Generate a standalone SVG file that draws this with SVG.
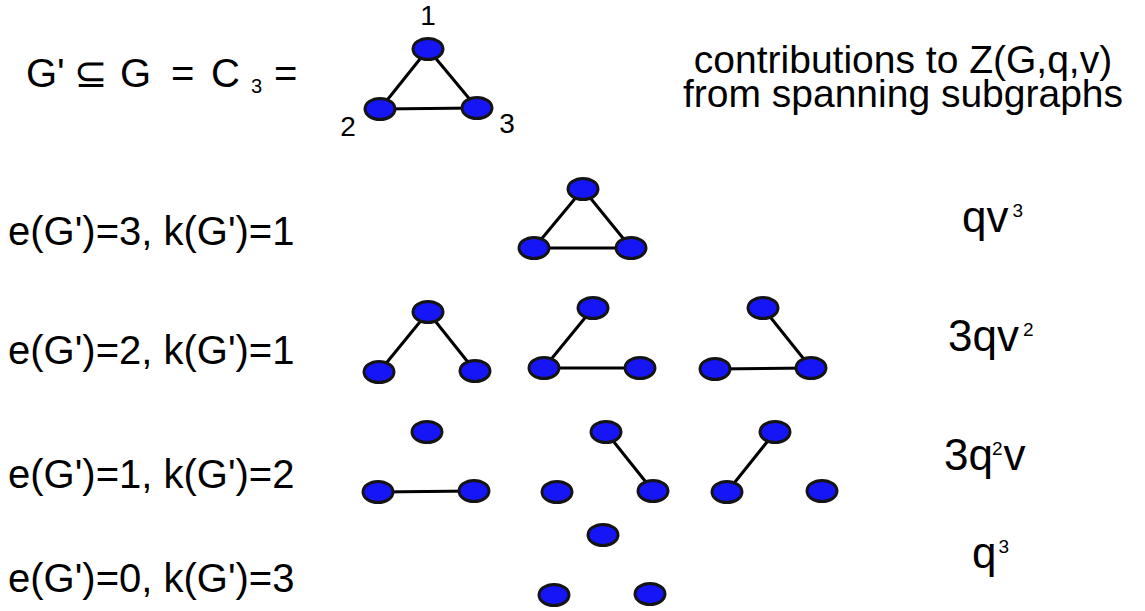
<svg xmlns="http://www.w3.org/2000/svg" width="1145" height="611" viewBox="0 0 1145 611">
<style>
.n{fill:#1515f6;stroke:#141414;stroke-width:3}
.e{stroke:#000;stroke-width:3;stroke-linecap:round}
.t{font-family:"Liberation Sans",Arial,sans-serif;fill:#000}
</style>
<rect width="1145" height="611" fill="#fff"/>
<g id="connectors">
<line class="e" x1="428" y1="49" x2="380" y2="109"/>
<line class="e" x1="428" y1="49" x2="477" y2="108"/>
<line class="e" x1="380" y1="109" x2="477" y2="108"/>
<line class="e" x1="583" y1="189" x2="534" y2="248"/>
<line class="e" x1="583" y1="189" x2="631" y2="248"/>
<line class="e" x1="534" y1="248" x2="631" y2="248"/>
<line class="e" x1="428" y1="312" x2="379" y2="372"/>
<line class="e" x1="428" y1="312" x2="475" y2="371"/>
<line class="e" x1="593" y1="308" x2="544" y2="368"/>
<line class="e" x1="544" y1="368" x2="640" y2="368"/>
<line class="e" x1="763" y1="308" x2="811" y2="368"/>
<line class="e" x1="715" y1="369" x2="811" y2="368"/>
<line class="e" x1="378" y1="492" x2="474" y2="491"/>
<line class="e" x1="606" y1="432" x2="653" y2="491"/>
<line class="e" x1="775" y1="432" x2="727" y2="492"/>
</g>
<g id="header">
<text class="t" font-size="40" y="87"><tspan x="26">G'</tspan><tspan x="74">⊆</tspan><tspan x="120">G</tspan><tspan x="171">=</tspan><tspan x="211">C</tspan><tspan x="251" y="93" font-size="20">3</tspan><tspan x="274" y="87">=</tspan></text>
<text class="t" font-size="28" x="428" y="25" text-anchor="middle">1</text>
<text class="t" font-size="28" x="348" y="136" text-anchor="middle">2</text>
<text class="t" font-size="28" x="507" y="133" text-anchor="middle">3</text>
<text class="t" font-size="39" x="903" y="73" text-anchor="middle">contributions to Z(G,q,v)</text>
<text class="t" font-size="39" x="903" y="107" text-anchor="middle">from spanning subgraphs</text>
</g>
<g id="c3">
<ellipse class="n" cx="428" cy="49" rx="15" ry="10.5"/>
<ellipse class="n" cx="380" cy="109" rx="15" ry="10.5"/>
<ellipse class="n" cx="477" cy="108" rx="15" ry="10.5"/>
</g>
<g id="row1">
<text class="t" font-size="40" x="8" y="245">e(G')=3, k(G')=1</text>
<ellipse class="n" cx="583" cy="189" rx="15" ry="10.5"/>
<ellipse class="n" cx="534" cy="248" rx="15" ry="10.5"/>
<ellipse class="n" cx="631" cy="248" rx="15" ry="10.5"/>
<text class="t" font-size="44" x="962" y="232">qv<tspan font-size="19" y="217" dx="4">3</tspan></text>
</g>
<g id="row2">
<text class="t" font-size="40" x="8" y="364">e(G')=2, k(G')=1</text>
<ellipse class="n" cx="428" cy="312" rx="15" ry="10.5"/>
<ellipse class="n" cx="379" cy="372" rx="15" ry="10.5"/>
<ellipse class="n" cx="475" cy="371" rx="15" ry="10.5"/>
<ellipse class="n" cx="593" cy="308" rx="15" ry="10.5"/>
<ellipse class="n" cx="544" cy="368" rx="15" ry="10.5"/>
<ellipse class="n" cx="640" cy="368" rx="15" ry="10.5"/>
<ellipse class="n" cx="763" cy="308" rx="15" ry="10.5"/>
<ellipse class="n" cx="715" cy="369" rx="15" ry="10.5"/>
<ellipse class="n" cx="811" cy="368" rx="15" ry="10.5"/>
<text class="t" font-size="44" x="948" y="351">3qv<tspan font-size="19" y="336" dx="4">2</tspan></text>
</g>
<g id="row3">
<text class="t" font-size="40" x="8" y="488">e(G')=1, k(G')=2</text>
<ellipse class="n" cx="427" cy="432" rx="15" ry="10.5"/>
<ellipse class="n" cx="378" cy="492" rx="15" ry="10.5"/>
<ellipse class="n" cx="474" cy="491" rx="15" ry="10.5"/>
<ellipse class="n" cx="606" cy="432" rx="15" ry="10.5"/>
<ellipse class="n" cx="557" cy="492" rx="15" ry="10.5"/>
<ellipse class="n" cx="653" cy="491" rx="15" ry="10.5"/>
<ellipse class="n" cx="775" cy="432" rx="15" ry="10.5"/>
<ellipse class="n" cx="727" cy="492" rx="15" ry="10.5"/>
<ellipse class="n" cx="822" cy="491" rx="15" ry="10.5"/>
<text class="t" font-size="44" x="944" y="470">3q<tspan font-size="19" y="455" dx="-1">2</tspan><tspan y="470" dx="1">v</tspan></text>
</g>
<g id="row4">
<text class="t" font-size="40" x="8" y="592">e(G')=0, k(G')=3</text>
<ellipse class="n" cx="603" cy="535" rx="15" ry="10.5"/>
<ellipse class="n" cx="554" cy="595" rx="15" ry="10.5"/>
<ellipse class="n" cx="650" cy="594" rx="15" ry="10.5"/>
<text class="t" font-size="44" x="972" y="568">q<tspan font-size="19" y="553" dx="2">3</tspan></text>
</g>
</svg>
